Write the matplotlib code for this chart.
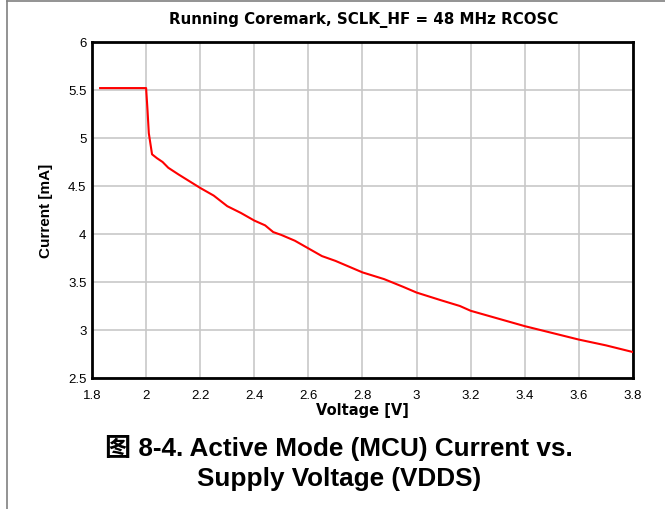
import matplotlib
matplotlib.use('Agg')
import matplotlib.pyplot as plt
from matplotlib.lines import Line2D

# Courbe
voltage = [1.83, 2.0, 2.005, 2.01, 2.022, 2.04, 2.061, 2.082, 2.12, 2.16,
           2.2, 2.25, 2.3, 2.35, 2.4, 2.44, 2.47, 2.5, 2.55, 2.6,
           2.65, 2.7, 2.75, 2.8, 2.88, 2.95, 3.0, 3.09, 3.16, 3.2,
           3.3, 3.4, 3.5, 3.6, 3.7, 3.8]
current = [5.52, 5.52, 5.30, 5.05, 4.83, 4.79, 4.75, 4.69, 4.62, 4.55,
           4.48, 4.40, 4.29, 4.22, 4.14, 4.09, 4.02, 3.99, 3.93, 3.85,
           3.77, 3.72, 3.66, 3.60, 3.53, 3.45, 3.39, 3.31, 3.25, 3.20,
           3.12, 3.04, 2.97, 2.90, 2.84, 2.77]

x_ticks = [1.8, 2, 2.2, 2.4, 2.6, 2.8, 3, 3.2, 3.4, 3.6, 3.8]
x_tick_labels = ["1.8", "2", "2.2", "2.4", "2.6", "2.8", "3", "3.2", "3.4", "3.6", "3.8"]
y_ticks = [2.5, 3, 3.5, 4, 4.5, 5, 5.5, 6]
y_tick_labels = ["2.5", "3", "3.5", "4", "4.5", "5", "5.5", "6"]

TITLE = "Running Coremark, SCLK_HF = 48 MHz RCOSC"
CAPTION = "图 8-4. Active Mode (MCU) Current vs.\nSupply Voltage (VDDS)"

FONT = ['Liberation Sans', 'Noto Sans CJK SC', 'DejaVu Sans']
WIDE = ['DejaVu Sans']   # le graphique d'origine est étiré en largeur
plt.rcParams['font.family'] = FONT

fig = plt.figure(figsize=(6.65, 5.10), dpi=100)
ax = fig.add_axes([92 / 665, 1 - 379 / 510, (633 - 92) / 665, (379 - 43) / 510])

ax.plot(voltage, current, color="#FF0000", lw=1.5, zorder=3)

ax.set_xlim(1.8, 3.8)
ax.set_ylim(2.5, 6)
ax.set_xticks(x_ticks)
ax.set_xticklabels(x_tick_labels, fontsize=9.5)
ax.set_yticks(y_ticks)
ax.set_yticklabels(y_tick_labels, fontsize=9.5)
ax.tick_params(axis="x", length=0, pad=8)
ax.tick_params(axis="y", length=0, pad=4)
ax.grid(True, color="#C8C8C8", lw=1.2)
ax.set_axisbelow(True)
for s in ax.spines.values():
    s.set_linewidth(2)
    s.set_color("black")

ax.set_xlabel("Voltage [V]", fontsize=10.5, fontweight="bold", family=WIDE, labelpad=1)
ax.set_ylabel("Current [mA]", fontsize=11, fontweight="bold", labelpad=11)
fig.text(364 / 665, 1 - 20 / 510, TITLE, ha="center", va="center",
         fontsize=10.8, fontweight="bold", family=WIDE)
fig.text(339 / 665, 1 - 463 / 510, CAPTION, ha="center", va="center",
         fontsize=18.8, fontweight="bold", linespacing=1.3)

# cadre (haut + gauche)
fig.add_artist(Line2D([7 / 665, 1], [1 - 2 / 510, 1 - 2 / 510],
                      transform=fig.transFigure, color="#808080", lw=1.2))
fig.add_artist(Line2D([7 / 665, 7 / 665], [0, 1 - 2 / 510],
                      transform=fig.transFigure, color="#808080", lw=1.2))

fig.savefig("out.png", dpi=100)
